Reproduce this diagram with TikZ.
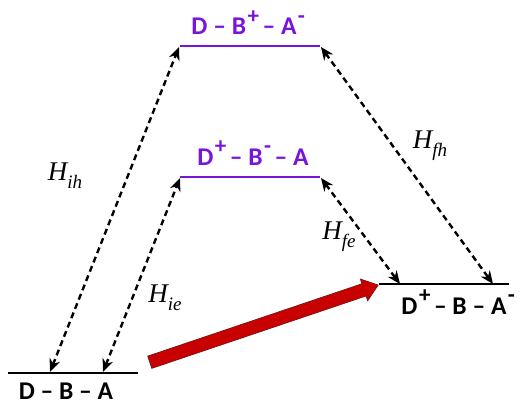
\documentclass[tikz,border=0pt]{standalone}
\usepackage{fontspec}
\setmainfont{Carlito}
\newfontfamily\tnr{Liberation Serif}
\usetikzlibrary{arrows.meta,shapes.arrows}
\definecolor{purp}{RGB}{120,20,220}
\definecolor{redfill}{RGB}{200,0,0}
\definecolor{redline}{RGB}{130,20,20}
\newcommand\spx[1]{\kern1.5pt\raisebox{0.45em}{\fontsize{23}{23}\selectfont #1}\kern3.5pt}
\newcommand\Hlab[1]{{\tnr\itshape H}\raisebox{-0.3em}{\fontsize{19}{19}\selectfont\tnr\itshape #1}}
\tikzset{
  species/.style={anchor=base, font=\fontsize{25.5}{25.5}\selectfont\bfseries, inner sep=0pt},
  level/.style={line width=2.4pt},
  coupling/.style={line width=2.4pt, dash pattern=on 6pt off 4pt, {Stealth[length=13pt,width=11pt]}-{Stealth[length=13pt,width=11pt]}},
  hlabel/.style={font=\fontsize{27}{27}\selectfont, inner sep=0pt}
}
\begin{document}
\begin{tikzpicture}[x=1pt,y=-1pt]
\useasboundingbox (0,0) rectangle (525,404);
% level end points
\coordinate (tl) at (180,46);
\coordinate (tr) at (320,46);
\coordinate (ml) at (180,177);
\coordinate (mr) at (320,177);
\coordinate (rl) at (379,284);
\coordinate (rr) at (509,284);
\coordinate (ll) at (8,373);
\coordinate (lr) at (138,373);
% levels
\draw[level, purp] (tl) -- (tr);
\draw[level, purp] (ml) -- (mr);
\draw[level] (rl) -- (rr);
\draw[level] (ll) -- (lr);
% labels
\node[species, text=purp] (top) at (250,35) {D -- B\spx{+}-- A\spx{-}};
\node[species, text=purp] (mid) at (253,165) {D\spx{+}-- B\spx{-}-- A};
\node[species] (right) at (460,314) {D\spx{+}-- B -- A\spx{-}};
\node[species] (left) at (66,399) {D -- B -- A};
% coupling arrow endpoints
\coordinate (lih) at (50,372);
\coordinate (lie) at (103,372);
\coordinate (tih) at (179,47);
\coordinate (mie) at (180,178);
\coordinate (tfh) at (321,47);
\coordinate (mfe) at (321,178);
\coordinate (rfe) at (400,284);
\coordinate (rfh) at (493,284);
\draw[coupling] (lih) -- (tih);
\draw[coupling] (lie) -- (mie);
\draw[coupling] (tfh) -- (rfh);
\draw[coupling] (mfe) -- (rfe);
\node[hlabel] (hih) at (65,176) {\Hlab{ih}};
\node[hlabel] (hie) at (165,298) {\Hlab{ie}};
\node[hlabel] (hfe) at (339,237) {\Hlab{fe}};
\node[hlabel] (hfh) at (430,146) {\Hlab{fh}};
% red transfer arrow
\node[single arrow, draw=redline, fill=redfill, line width=0.8pt,
      minimum height=241pt, inner sep=6pt, single arrow head extend=5pt,
      single arrow head indent=0pt, single arrow tip angle=75,
      rotate=18.66] (transfer) at (260,325) {};
\end{tikzpicture}
\end{document}
